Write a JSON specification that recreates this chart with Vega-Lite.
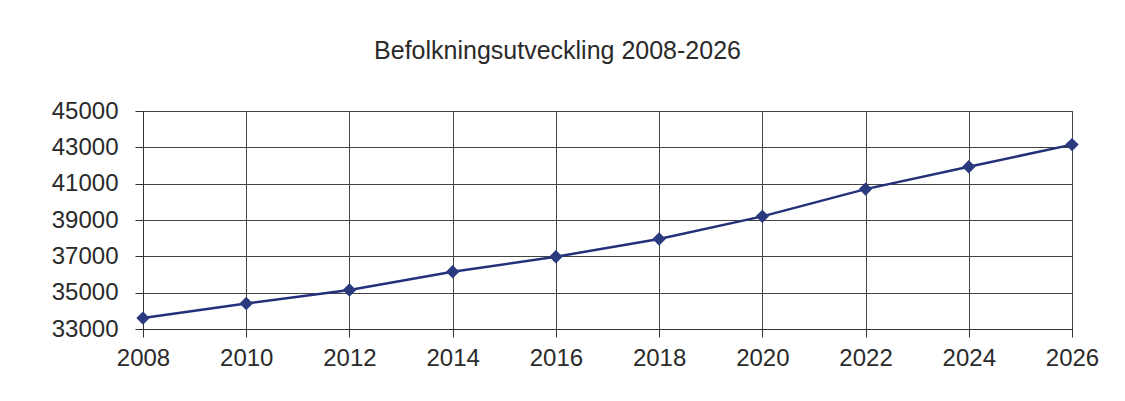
{
  "$schema": "https://vega.github.io/schema/vega-lite/v6.json",
  "width": 929,
  "height": 218,
  "autosize": {"type": "none"},
  "padding": {"left": 143, "top": 111, "right": 53, "bottom": 72},
  "background": "white",
  "title": {
    "text": "Befolkningsutveckling 2008-2026",
    "font": "Liberation Sans",
    "fontSize": 25,
    "fontWeight": "normal",
    "color": "#2a2a2a",
    "frame": "group",
    "anchor": "middle",
    "baseline": "alphabetic",
    "offset": 15,
    "dx": -50
  },
  "data": {
    "values": [
      {"year": 2008, "population": 33600},
      {"year": 2010, "population": 34400},
      {"year": 2012, "population": 35150},
      {"year": 2014, "population": 36150},
      {"year": 2016, "population": 36980},
      {"year": 2018, "population": 37950},
      {"year": 2020, "population": 39200},
      {"year": 2022, "population": 40700},
      {"year": 2024, "population": 41930},
      {"year": 2026, "population": 43150}
    ]
  },
  "config": {
    "view": {"stroke": "#444", "strokeWidth": 1},
    "axis": {
      "labelFont": "Liberation Sans",
      "labelColor": "#2a2a2a",
      "gridColor": "#444",
      "gridOpacity": 1,
      "gridWidth": 1,
      "domainColor": "#333",
      "tickColor": "#333",
      "tickSize": 8,
      "title": null
    }
  },
  "mark": {
    "type": "line",
    "color": "#24317a",
    "strokeWidth": 2.5,
    "point": {"shape": "diamond", "size": 180, "filled": true, "color": "#2b3a7e", "opacity": 1}
  },
  "encoding": {
    "x": {
      "field": "year",
      "type": "quantitative",
      "scale": {"domain": [2008, 2026], "nice": false, "zero": false},
      "axis": {
        "values": [2008, 2010, 2012, 2014, 2016, 2018, 2020, 2022, 2024, 2026],
        "format": "d",
        "labelFontSize": 24,
        "labelPadding": 9,
        "labelFlush": false,
        "labelOverlap": false
      }
    },
    "y": {
      "field": "population",
      "type": "quantitative",
      "scale": {"domain": [33000, 45000], "nice": false, "zero": false},
      "axis": {
        "values": [33000, 35000, 37000, 39000, 41000, 43000, 45000],
        "format": "d",
        "labelFontSize": 24,
        "labelPadding": 17,
        "labelOverlap": false
      }
    }
  }
}
